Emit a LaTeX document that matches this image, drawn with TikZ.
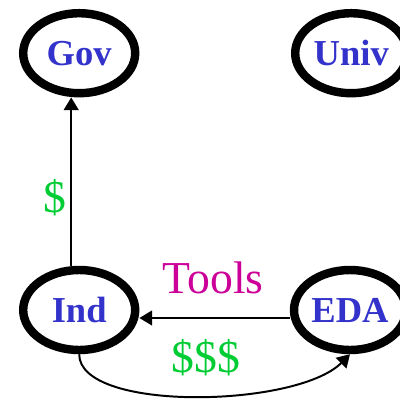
\documentclass[tikz,border=0pt]{standalone}
\usepackage{fontspec}
\setmainfont{Liberation Serif}
\usetikzlibrary{shapes.geometric,arrows.meta}
\definecolor{agentblue}{RGB}{51,51,204}
\definecolor{moneygreen}{RGB}{0,204,51}
\definecolor{toolmagenta}{RGB}{204,0,153}
\begin{document}
\begin{tikzpicture}
\tikzstyle{agent} = [ellipse,draw,line width=6pt,minimum width=2.8cm,minimum height=2cm,inner sep=0pt,text=agentblue,font=\fontsize{26}{28}\selectfont\bfseries];
\tikzstyle{flow} = [-{Triangle[length=9pt,width=10.5pt]},line width=1.4pt];
\tikzstyle{money} = [text=moneygreen,font=\fontsize{32.5}{36}\selectfont];
\useasboundingbox (0,0) rectangle (10,9.95);

\node [agent] (gov) at (1.98,8.62) {Gov};
\node [agent] (univ) at (8.78,8.62) {Univ};
\node [agent] (ind) at (1.98,2.2) {Ind};
\node [agent] (eda) at (8.75,2.2) {EDA};

\node [money] (pay) at (1.375,5.0) {\$};
\node [text=toolmagenta,font=\fontsize{32.5}{36}\selectfont] (tools) at (5.33,3.0) {Tools};
\node [money] (fees) at (5.15,1.02) {\$\$\$};

\draw [flow] ([xshift=-0.2cm]ind.north) -- ([xshift=-0.2cm]gov.south);
\draw [flow] ([yshift=-0.2cm]eda.west) -- ([yshift=-0.2cm]ind.east);
\draw [flow] (ind.south) to[out=-90,in=-135,out distance=1.45cm,in distance=1.9cm] (eda.south);
\end{tikzpicture}
\end{document}
